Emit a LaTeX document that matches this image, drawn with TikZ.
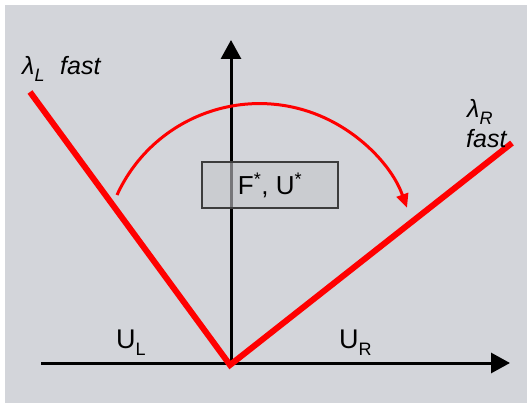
\documentclass[tikz,border=0pt]{standalone}
\usepackage{fontspec}
\setmainfont{Liberation Sans}
\usetikzlibrary{arrows.meta}
\definecolor{bg}{RGB}{211,213,218}
\definecolor{boxfill}{RGB}{197,198,202}
\definecolor{boxdraw}{RGB}{60,60,60}
\newcommand{\sbs}[1]{\raisebox{-0.28em}{\fontsize{18}{18}\selectfont #1}}
\begin{document}
\begin{tikzpicture}[x=1pt,y=-1pt,
 axis/.style={line width=3pt, -{Triangle[length=19pt,width=20pt]}},
 wave/.style={red, line width=6pt, line join=miter},
 fan/.style={red, line width=3pt, -{Triangle[length=14pt,width=12pt]}},
 lbl/.style={inner sep=0pt, anchor=base west, font=\fontsize{25}{28}\selectfont},
 ulbl/.style={inner sep=0pt, anchor=base west, font=\fontsize{27}{30}\selectfont},
 starbox/.style={draw=boxdraw, line width=1.2pt, fill=boxfill, fill opacity=0.6, text opacity=1, minimum width=136pt, minimum height=46pt, inner sep=0pt, font=\fontsize{26}{30}\selectfont}]
\useasboundingbox (0,0) rectangle (527,403);
\fill[bg] (5,5) rectangle (527,403);
\coordinate (O) at (231,363);
\coordinate (xs) at (41,363);
\coordinate (xe) at (510,363);
\coordinate (ye) at (231,40);
\draw[axis] (xs) -- (xe);
\draw[axis] (O) -- (ye);
\coordinate (wl) at (30,92);
\coordinate (wv) at (230,365);
\coordinate (wr) at (512,143);
\draw[wave] (wl) -- (wv) -- (wr);
\coordinate (arcA) at (117,195);
\draw[fan] (arcA) arc[start angle=-155.4, end angle=-19.5, radius=156.6];
\node[starbox] (star) at (270,185) {F\textsuperscript{*}, U\textsuperscript{*}};
\node[lbl] (lamL) at (22,75) {\textit{λ\sbs{L}}};
\node[lbl] (fastL) at (60,75) {\textit{fast}};
\node[lbl] (lamR) at (467,118) {\textit{λ\sbs{R}}};
\node[lbl] (fastR) at (466,148) {\textit{fast}};
\node[ulbl] (UL) at (116,348) {U\sbs{L}};
\node[ulbl] (UR) at (339,348) {U\sbs{R}};
\end{tikzpicture}
\end{document}
